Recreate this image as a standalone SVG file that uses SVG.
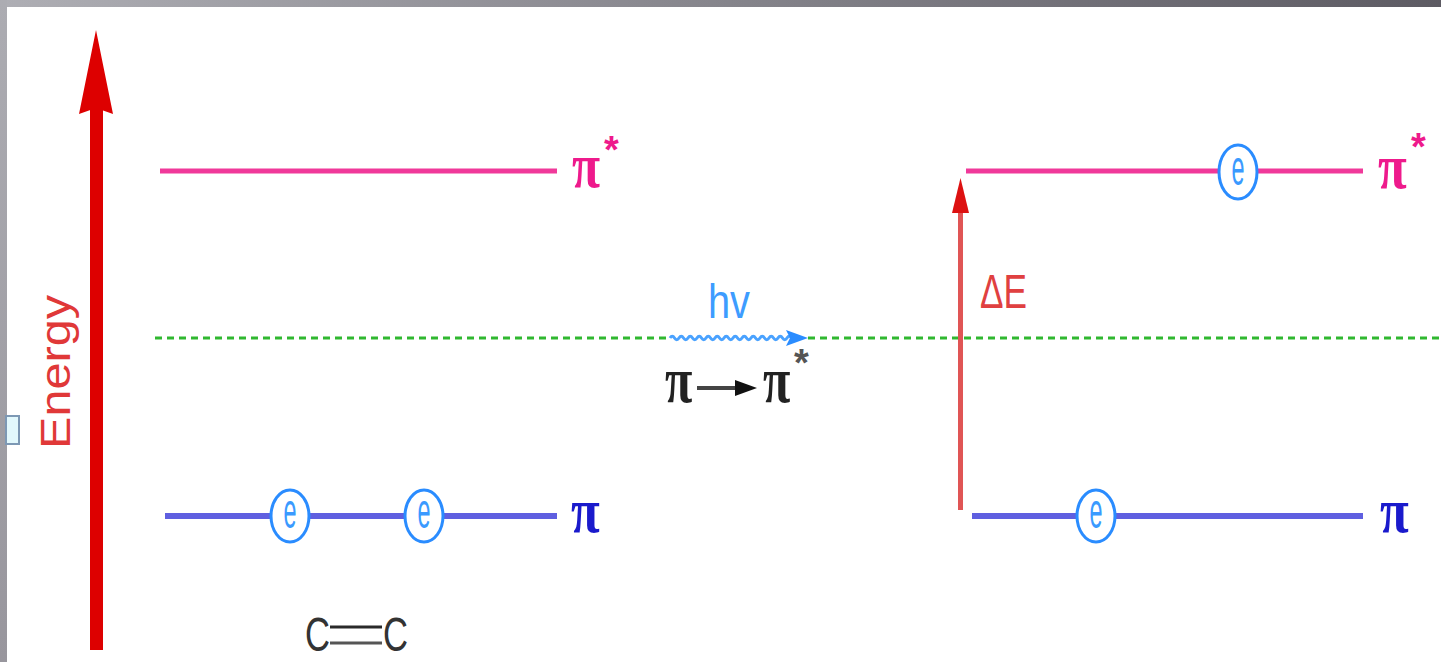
<svg xmlns="http://www.w3.org/2000/svg" width="1441" height="662" viewBox="0 0 1441 662">
<defs>
<linearGradient id="gTop" x1="0" y1="0" x2="1" y2="0"><stop offset="0" stop-color="#aeaeb4"/><stop offset="1" stop-color="#5d5b63"/></linearGradient>
<linearGradient id="gLeft" x1="0" y1="0" x2="0" y2="1"><stop offset="0" stop-color="#acacb2"/><stop offset="1" stop-color="#98969d"/></linearGradient>
<style>
.pi{font-family:"Liberation Serif",serif;font-weight:bold;font-size:64px;}
.ast{font-family:"Liberation Sans",sans-serif;font-weight:bold;font-size:38px;}
.lvlS{stroke:#f0399a;stroke-width:5;}
.lvlB{stroke:#5f5fe0;stroke-width:6;}
.el{fill:#fff;stroke:#2a8cff;stroke-width:3;}
.et{font-family:"Liberation Sans",sans-serif;font-size:50px;fill:#3a9aff;text-anchor:middle;}
</style>
</defs>
<rect x="0" y="0" width="1441" height="662" fill="#fff"/>
<rect x="0" y="0" width="1441" height="7" fill="url(#gTop)"/>
<rect x="0" y="0" width="7" height="662" fill="url(#gLeft)"/>
<rect x="6" y="416" width="13" height="28" fill="#e2f8fc" stroke="#7d98b4" stroke-width="2"/>

<g id="energy-axis">
<rect x="90" y="105" width="13" height="545" fill="#dd0000"/>
<polygon points="96,30 113,114 96,108 79,114" fill="#dd0000"/>
<text transform="translate(70,449) rotate(-90)" font-family="Liberation Sans, sans-serif" font-size="42" fill="#e03838" textLength="154" lengthAdjust="spacingAndGlyphs">Energy</text>
</g>

<g id="connectors">
<line x1="155" y1="338" x2="668" y2="338" stroke="#30b830" stroke-width="3" stroke-dasharray="7 5"/>
<line x1="808" y1="338" x2="1441" y2="338" stroke="#30b830" stroke-width="3" stroke-dasharray="7 5"/>
<path d="M670,338 q2.25,-3.5 4.5,0 t4.5,0 t4.5,0 t4.5,0 t4.5,0 t4.5,0 t4.5,0 t4.5,0 t4.5,0 t4.5,0 t4.5,0 t4.5,0 t4.5,0 t4.5,0 t4.5,0 t4.5,0 t4.5,0 t4.5,0 t4.5,0 t4.5,0 t4.5,0 t4.5,0 t4.5,0 t4.5,0 t4.5,0 t4.5,0 t4.5,0" fill="none" stroke="#4aa2ff" stroke-width="3"/>
<polygon points="786,330 808,338 786,346 790,338" fill="#2a8cff"/>
<rect x="958" y="205" width="5" height="305" fill="#e05555"/>
<polygon points="960.5,178 969,213 952,213" fill="#dd1111"/>
</g>

<g id="left-pistar">
<line class="lvlS" x1="160" y1="171" x2="557" y2="171"/>
<text class="pi" transform="translate(572,187) scale(0.8,1)" fill="#ee1a8c">π</text>
<text class="ast" x="604" y="163" fill="#ee1a8c">*</text>
</g>

<g id="left-pi">
<line class="lvlB" x1="165" y1="516" x2="557" y2="516"/>
<ellipse class="el" cx="290" cy="516" rx="19" ry="26"/>
<text class="et" x="290" y="528" textLength="13" lengthAdjust="spacingAndGlyphs">e</text>
<ellipse class="el" cx="424" cy="516" rx="19" ry="26"/>
<text class="et" x="424" y="528" textLength="13" lengthAdjust="spacingAndGlyphs">e</text>
<text class="pi" transform="translate(571,532) scale(0.82,1)" fill="#1a1acc">π</text>
</g>

<g id="molecule">
<text x="305" y="651" font-family="Liberation Sans, sans-serif" font-size="48" fill="#333" textLength="25" lengthAdjust="spacingAndGlyphs">C</text>
<line x1="330" y1="627" x2="382" y2="627" stroke="#2a2a2a" stroke-width="3"/>
<line x1="330" y1="643" x2="382" y2="643" stroke="#555" stroke-width="3"/>
<text x="383" y="651" font-family="Liberation Sans, sans-serif" font-size="48" fill="#333" textLength="25" lengthAdjust="spacingAndGlyphs">C</text>
</g>

<g id="photon">
<text x="708" y="318" font-family="Liberation Sans, sans-serif" font-size="48" fill="#3d9cff" textLength="42" lengthAdjust="spacingAndGlyphs">hv</text>
</g>

<g id="transition">
<text class="pi" transform="translate(665,402) scale(0.78,1.03)" fill="#222">π</text>
<line x1="697" y1="388" x2="738" y2="388" stroke="#444" stroke-width="4"/>
<polygon points="735,380 757,388 735,396" fill="#111"/>
<text class="pi" transform="translate(763,402) scale(0.78,1.03)" fill="#222">π</text>
<text class="ast" x="794" y="376" fill="#555">*</text>
</g>

<g id="delta-e">
<text x="980" y="308" font-family="Liberation Sans, sans-serif" font-size="48" fill="#e04040" textLength="47" lengthAdjust="spacingAndGlyphs">ΔE</text>
</g>

<g id="right-pistar">
<line class="lvlS" x1="966" y1="171" x2="1363" y2="171"/>
<ellipse class="el" cx="1238" cy="172" rx="19" ry="27"/>
<text class="et" x="1238" y="185" textLength="13" lengthAdjust="spacingAndGlyphs">e</text>
<text class="pi" transform="translate(1378,188) scale(0.82,1)" fill="#ee1a8c">π</text>
<text class="ast" x="1411" y="160" fill="#ee1a8c">*</text>
</g>

<g id="right-pi">
<line class="lvlB" x1="972" y1="516" x2="1363" y2="516"/>
<ellipse class="el" cx="1096" cy="516" rx="19" ry="26"/>
<text class="et" x="1096" y="528" textLength="13" lengthAdjust="spacingAndGlyphs">e</text>
<text class="pi" transform="translate(1380,532) scale(0.82,1)" fill="#1a1acc">π</text>
</g>
</svg>
